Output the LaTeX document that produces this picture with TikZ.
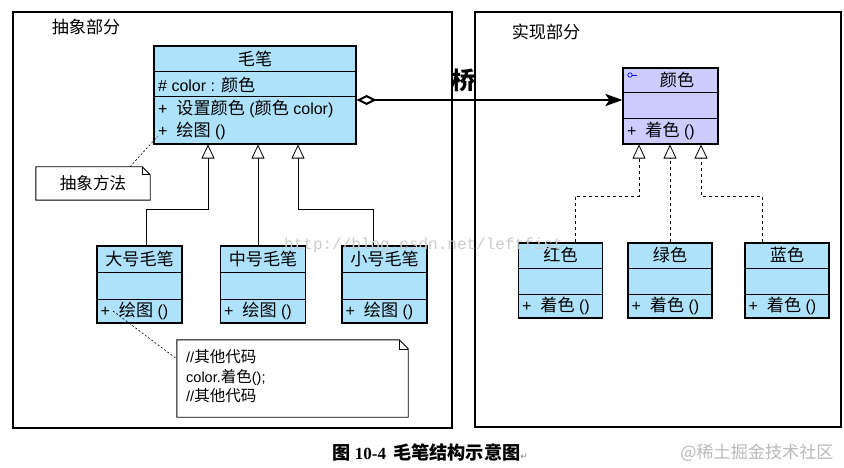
\documentclass[tikz,border=0pt]{standalone}
\usepackage{fontspec}
\setmainfont{Liberation Sans}
\newfontfamily\cjk[Scale=1.07]{Noto Sans CJK SC}
\newfontfamily\mono{Liberation Mono}
\newfontfamily\serifb{Liberation Serif}
\newfontfamily\sym{DejaVu Sans}
\usetikzlibrary{arrows.meta}
\definecolor{clsblue}{RGB}{174,225,250}
\definecolor{lav}{RGB}{204,204,255}
\newcommand{\cj}[1]{{\cjk #1}}
\begin{document}
\begin{tikzpicture}[x=1pt,y=-1pt,
 cls/.style={draw, line width=1.1pt, fill=clsblue, inner sep=0pt},
 sepl/.style={line width=1pt},
 txt/.style={inner sep=0pt, font=\fontsize{16}{18}\selectfont},
 ntxt/.style={inner sep=0pt, anchor=west, font=\fontsize{14.5}{16}\selectfont},
 lab/.style={inner sep=0pt, font=\cjk\fontsize{16}{18}\selectfont},
 inh/.style={line width=0.8pt, -{Triangle[open,length=14pt,width=13pt]}},
 dinh/.style={inh, dash pattern=on 3pt off 3pt},
 notel/.style={line width=0.6pt, dash pattern=on 2pt off 2pt},
 notebox/.style={inner sep=0pt},
 noteline/.style={line width=0.9pt}
]
\useasboundingbox (0,0) rectangle (844,468);
\fill[white] (0,0) rectangle (844,468);

% frames
\draw[line width=1.1pt] (13,12) rectangle (452,428);
\draw[line width=1.1pt] (475,12) rectangle (841,427);
\node[lab] (labA) at (86,27) {抽象部分};
\node[lab] (labB) at (546,32) {实现部分};

% main abstraction class
\node[cls, minimum width=202pt, minimum height=98pt] (pen) at (255,95) {};
\draw[sepl] (pen.west |- 0,72) -- (pen.east |- 0,72);
\draw[sepl] (pen.west |- 0,97) -- (pen.east |- 0,97);
\node[txt] (penT) at (255,59) {\cj{毛笔}};
\node[txt, anchor=west] (penA) at (158,84.5) {\#\ color : \cj{颜色}};
\node[txt, anchor=west] (penM1) at (158,109) {+\ \ \cj{设置颜色} (\cj{颜色} color)};
\node[txt, anchor=west] (penM2) at (158,131) {+\ \ \cj{绘图} ()};

% refined abstractions
\foreach \n/\cx/\t in {dh/139.5/大号毛笔, zh/263/中号毛笔, xh/384.5/小号毛笔} {
  \node[cls, minimum width=85pt, minimum height=77pt] (\n) at (\cx,284.5) {};
  \draw[sepl] (\n.west |- 0,272) -- (\n.east |- 0,272);
  \draw[sepl] (\n.west |- 0,299) -- (\n.east |- 0,299);
  \node[txt] (\n T) at (\cx,259) {\cj{\t}};
  \node[txt, anchor=west, xshift=4pt] (\n M) at (\n.west |- 0,311) {+\ \ \cj{绘图} ()};
}

% implementor
\node[cls, fill=lav, minimum width=95pt, minimum height=76pt] (col) at (670.5,106) {};
\draw[sepl] (col.west |- 0,93) -- (col.east |- 0,93);
\draw[sepl] (col.west |- 0,119) -- (col.east |- 0,119);
\node[txt] (colT) at (677,80) {\cj{颜色}};
\node[txt, anchor=west] (colM) at (627,131) {+\ \ \cj{着色} ()};
\draw[blue, line width=0.7pt] (630,75) circle (2.2);
\draw[blue, line width=0.7pt] (632.2,75) -- (637,75);

% concrete implementors
\foreach \n/\cx/\t in {hs/560.5/红色, ls/670/绿色, ls2/787/蓝色} {
  \node[cls, minimum width=84pt, minimum height=75pt] (\n) at (\cx,280.5) {};
  \draw[sepl] (\n.west |- 0,268) -- (\n.east |- 0,268);
  \draw[sepl] (\n.west |- 0,294) -- (\n.east |- 0,294);
  \node[txt] (\n T) at (\cx,255) {\cj{\t}};
  \node[txt, anchor=west, xshift=4pt] (\n M) at (\n.west |- 0,306) {+\ \ \cj{着色} ()};
}

% generalizations
\draw[inh] ([xshift=6.5pt]dh.north) -- ++(0,-36) -| ([xshift=-47pt]pen.south);
\draw[inh] ([xshift=-5pt]zh.north) -- ([xshift=3pt]pen.south);
\draw[inh] ([xshift=-11.5pt]xh.north) -- ++(0,-36) -| ([xshift=43pt]pen.south);
\draw[dinh] ([xshift=14.5pt]hs.north) -- ++(0,-46) -| ([xshift=-31.5pt]col.south);
\draw[dinh] (ls.north) -- (ls.north |- col.south);
\draw[dinh] ([xshift=-25pt]ls2.north) -- ++(0,-46) -| ([xshift=30.5pt]col.south);

% bridge
\draw[line width=2.8pt, {Diamond[open,length=20pt,width=10pt,line width=2pt]}-{Stealth[length=17pt,width=12pt,inset=4pt]}] ([yshift=-5pt]pen.east) -- ([yshift=6pt]col.west);
\node[inner sep=0pt, font=\cjk\bfseries\fontsize{22.5}{24}\selectfont] (bridge) at (464,80) {桥};

% note 1
\node[notebox, minimum width=114pt, minimum height=33pt, font=\fontsize{15.5}{18}\selectfont] (n1) at (93,183.5) {\cj{抽象方法}};
\draw[noteline] (n1.north west) -- ([xshift=-8pt]n1.north east) -- ([yshift=-8pt]n1.north east) -- (n1.south east) -- (n1.south west) -- cycle;
\draw[line width=0.6pt] ([xshift=-8pt]n1.north east) -- ([xshift=-8pt,yshift=-8pt]n1.north east) -- ([yshift=-8pt]n1.north east);
\draw[notel] ([xshift=37pt]n1.north) -- ([xshift=4pt,yshift=8pt]pen.south west);

% note 2
\node[notebox, minimum width=231pt, minimum height=77pt] (n2) at (292.5,378.5) {};
\draw[noteline] (n2.north west) -- ([xshift=-9pt]n2.north east) -- ([yshift=-9pt]n2.north east) -- (n2.south east) -- (n2.south west) -- cycle;
\draw[line width=0.6pt] ([xshift=-9pt]n2.north east) -- ([xshift=-9pt,yshift=-9pt]n2.north east) -- ([yshift=-9pt]n2.north east);
\node[ntxt] (n2a) at (186,357) {//\cj{其他代码}};
\node[ntxt] (n2b) at (186,377) {color.\cj{着色}();};
\node[ntxt] (n2c) at (186,396) {//\cj{其他代码}};
\draw[notel] ([xshift=-26.5pt,yshift=-26.5pt]dh.center) -- ([yshift=19.5pt]n2.west);

% caption
\node[inner sep=0pt, font=\fontsize{17}{20}\selectfont\bfseries] (cap) at (430,452) {\cj{图} {\serifb 10-4}\hspace{7pt}\cj{毛笔结构示意图}{\sym\mdseries\color{gray}\fontsize{9}{9}\selectfont ↵}};

% watermarks
\node[anchor=base west, inner sep=0pt, text=gray!40, font=\mono\fontsize{16}{16}\selectfont] (wm1) at (284,249) {http://blog.csdn.net/leftfist};
\node[inner sep=0pt, text=gray!55, font=\cjk\fontsize{16}{16}\selectfont] (wm2) at (757,453) {@稀土掘金技术社区};
\end{tikzpicture}
\end{document}
